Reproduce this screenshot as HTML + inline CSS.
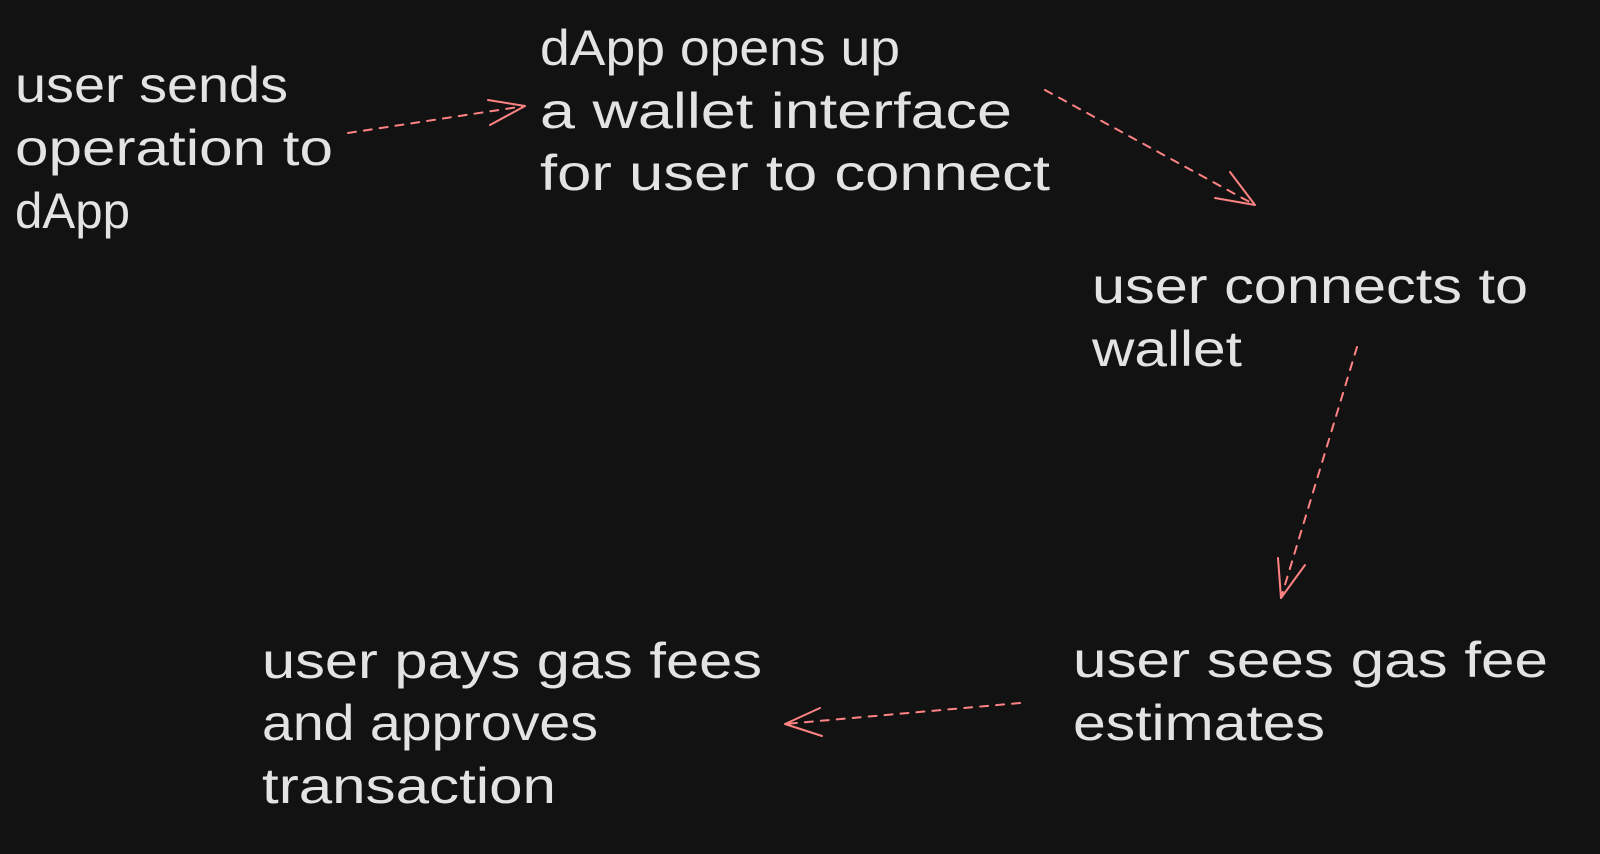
<!DOCTYPE html>
<html><head><meta charset="utf-8"><style>
html,body{margin:0;padding:0;background:#121212;}
svg{display:block}
text{font-family:"Liberation Sans",sans-serif;font-size:50px;fill:#e3e3e3;}
</style></head><body>
<svg width="1600" height="854" viewBox="0 0 1600 854" xmlns="http://www.w3.org/2000/svg">
<rect width="1600" height="854" fill="#121212"/>
<g>
<text x="15" y="102" textLength="273" lengthAdjust="spacingAndGlyphs">user sends</text>
<text x="15" y="165" textLength="318" lengthAdjust="spacingAndGlyphs">operation to</text>
<text x="15" y="228" textLength="115" lengthAdjust="spacingAndGlyphs">dApp</text>

<text x="540" y="65" textLength="360" lengthAdjust="spacingAndGlyphs">dApp opens up</text>
<text x="540" y="128" textLength="472" lengthAdjust="spacingAndGlyphs">a wallet interface</text>
<text x="540" y="190" textLength="510" lengthAdjust="spacingAndGlyphs">for user to connect</text>

<text x="1092" y="303" textLength="436" lengthAdjust="spacingAndGlyphs">user connects to</text>
<text x="1092" y="366" textLength="150" lengthAdjust="spacingAndGlyphs">wallet</text>

<text x="1073" y="677" textLength="475" lengthAdjust="spacingAndGlyphs">user sees gas fee</text>
<text x="1073" y="740" textLength="252" lengthAdjust="spacingAndGlyphs">estimates</text>

<text x="262" y="678" textLength="500" lengthAdjust="spacingAndGlyphs">user pays gas fees</text>
<text x="262" y="740" textLength="336" lengthAdjust="spacingAndGlyphs">and approves</text>
<text x="262" y="803" textLength="294" lengthAdjust="spacingAndGlyphs">transaction</text>
</g>
<g fill="none" stroke="#ff8383" stroke-width="2" stroke-linecap="round">
<path d="M348 133 L525 106" stroke-dasharray="8 8"/>
<path d="M525 106 L488 100 M525 106 L490 125"/>
<path d="M1045 90 L1255 205" stroke-dasharray="8 8"/>
<path d="M1255 205 L1230 172 M1255 205 L1215 198"/>
<path d="M1357 347 L1281 598" stroke-dasharray="8 8"/>
<path d="M1281 598 L1278 558 M1281 598 L1305 565"/>
<path d="M1020 703 L785 724" stroke-dasharray="8 8"/>
<path d="M785 724 L820 708 M785 724 L822 736"/>
</g>
</svg>
</body></html>
